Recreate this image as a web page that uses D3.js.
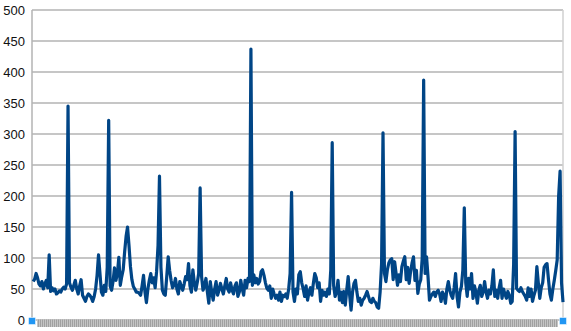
<!DOCTYPE html>
<html lang="en">
<head>
<meta charset="UTF-8">
<title>chart</title>
<style>
body{margin:0;background:#fff;}
text{font-family:"Liberation Sans",Arial,sans-serif;}
</style>
</head>
<body>
<script src="https://d3js.org/d3.v7.min.js"></script>
<script>
// daily values, one row per ~4-5 weeks
var values = [
  62,66,75,68,58,55,62,50,58,64,52,105,46,52,47,50,42,44,47,45,50,53,50,58,345,
  60,53,48,56,64,50,42,55,65,40,35,30,38,42,40,36,30,38,50,72,105,75,45,40,56,46,85,322,
  55,48,62,84,64,75,101,56,70,81,110,135,150,120,86,65,54,50,45,45,
  43,40,55,72,45,28,50,64,75,60,68,52,78,120,232,85,48,42,40,70,102,80,64,52,56,67,50,42,62,55,48,58,70,65,91,55,45,81,60,48,60,75,213,
  70,48,55,67,45,27,62,45,32,50,62,40,48,59,50,42,55,67,50,45,60,48,42,55,60,38,45,64,50,40,
  64,52,67,62,437,56,73,60,67,58,62,78,81,72,60,51,48,55,35,50,42,35,40,32,45,30,40,38,42,35,50,75,206,
  45,30,50,42,73,78,60,50,38,55,32,45,52,40,59,75,68,52,60,30,48,40,45,38,50,42,80,286,
  55,38,45,64,32,45,28,46,24,48,70,40,16,45,59,64,45,30,35,24,32,35,40,46,38,30,28,35,30,28,21,19,45,90,302,
  75,62,81,92,97,99,65,94,75,56,73,62,86,95,102,65,85,59,78,92,102,64,80,43,58,65,100,387,
  75,102,70,32,38,42,45,38,45,48,42,30,45,40,27,50,62,48,40,35,52,75,38,21,45,54,81,181,
  60,38,67,50,75,35,55,45,27,48,56,38,45,62,45,35,48,42,55,81,38,48,35,52,64,35,50,42,35,46,40,27,30,90,304,
  51,48,46,52,46,42,38,32,52,38,50,30,40,48,86,60,35,52,60,85,89,91,65,42,32,50,64,80,97,200,240,60,29
];
var yTicks = [0, 50, 100, 150, 200, 250, 300, 350, 400, 450, 500];

var width = 571, height = 331;
var plot = {left: 32, right: 563, top: 10, bottom: 320};

var svg = d3.select("body").append("svg")
  .attr("width", width)
  .attr("height", height);

var x = d3.scaleLinear().domain([0, values.length - 1]).range([plot.left + 1.2, plot.right]);
var y = d3.scaleLinear().domain([0, 500]).range([plot.bottom, plot.top]);

// grid lines
svg.append("g").selectAll("line").data(yTicks).enter().append("line")
  .attr("x1", plot.left).attr("x2", plot.right)
  .attr("y1", function(d){ return y(d); }).attr("y2", function(d){ return y(d); })
  .attr("stroke", "#b3b3b3").attr("stroke-width", 1.5);

// left axis & right border
svg.append("line").attr("x1", plot.left).attr("x2", plot.left)
  .attr("y1", plot.top).attr("y2", plot.bottom + 4)
  .attr("stroke", "#b3b3b3").attr("stroke-width", 1.5);
svg.append("line").attr("x1", plot.right).attr("x2", plot.right)
  .attr("y1", plot.top).attr("y2", plot.bottom)
  .attr("stroke", "#d0d0d0").attr("stroke-width", 1.5);

// y labels
svg.append("g").selectAll("text").data(yTicks).enter().append("text")
  .attr("x", 25).attr("y", function(d){ return y(d); })
  .attr("dy", "0.35em")
  .attr("text-anchor", "end")
  .attr("font-size", 13)
  .attr("fill", "#111")
  .text(function(d){ return d; });

// selection bar along the bottom
var defs = svg.append("defs");
var pat = defs.append("pattern").attr("id", "hatch")
  .attr("patternUnits", "userSpaceOnUse").attr("width", 2).attr("height", 8);
pat.append("rect").attr("width", 2).attr("height", 8).attr("fill", "#c4c4c4");
pat.append("rect").attr("width", 1).attr("height", 8).attr("fill", "#a0a0a0");
svg.append("rect").attr("x", 37).attr("y", 319.5).attr("width", 521).attr("height", 7.5)
  .attr("fill", "url(#hatch)");

// series
var line = d3.line()
  .x(function(d, i){ return x(i); })
  .y(function(d){ return y(d); });
svg.append("path").datum(values)
  .attr("d", line)
  .attr("fill", "none")
  .attr("stroke", "#004586")
  .attr("stroke-width", 3.2)
  .attr("stroke-linejoin", "round");

// handles
[plot.left, plot.right].forEach(function(px){
  svg.append("rect").attr("x", px - 3.5).attr("y", 317.5).attr("width", 7).attr("height", 7)
    .attr("fill", "#2196f3").attr("stroke", "#fff").attr("stroke-width", 0.5);
});
</script>
</body>
</html>
